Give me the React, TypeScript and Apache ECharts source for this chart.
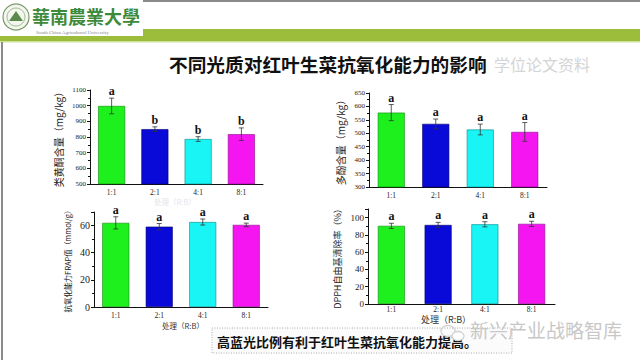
import React, { useEffect, useRef } from "react";
import * as echarts from "echarts";

const categories = ["1:1", "2:1", "4:1", "8:1"];
const barColors = ["#1EF01E", "#0A0AD8", "#19F5F5", "#F515F0"];
const barBorders = ["#0a8a0a", "#000070", "#0a8a8a", "#8a0a8a"];

const flavonoid = [998, 850, 787, 818];
const flavonoidErr = [50, 15, 15, 40];
const flavonoidSig = ["a", "b", "b", "b"];

const polyphenol = [577, 535, 514, 505];
const polyphenolErr = [30, 18, 20, 35];
const polyphenolSig = ["a", "a", "a", "a"];

const frap = [62, 59.2, 62.6, 60.5];
const frapErr = [4.5, 2.3, 2.2, 1.3];
const frapSig = ["a", "a", "a", "a"];

const dpph = [90.5, 91.5, 92.3, 92.8];
const dpphErr = [3, 3, 3, 3];
const dpphSig = ["a", "a", "a", "a"];

const panels = [
  { vals: flavonoid, err: flavonoidErr, sig: flavonoidSig, min: 500, max: 1100, interval: 100, name: "类黄酮含量（mg/kg）", nameSize: 10, nameGap: 27, labelSize: 7, xLabelMargin: 3, grid: { left: 90, right: 377, top: 90, bottom: 176 } },
  { vals: polyphenol, err: polyphenolErr, sig: polyphenolSig, min: 300, max: 650, interval: 50, name: "多酚含量（mg/kg）", nameSize: 10, nameGap: 24, labelSize: 7, xLabelMargin: 3, grid: { left: 369, right: 93, top: 93, bottom: 173 } },
  { vals: frap, err: frapErr, sig: frapSig, min: 0, max: 70, interval: 20, name: "抗氧化能力FRAP值（mmol/g）", nameSize: 7.5, nameGap: 23, labelSize: 10, xLabelMargin: 3, grid: { left: 94, right: 372, top: 212, bottom: 53 } },
  { vals: dpph, err: dpphErr, sig: dpphSig, min: 0, max: 110, interval: 20, name: "DPPH自由基清除率（%）", nameSize: 9, nameGap: 26, labelSize: 9, xLabelMargin: 0, grid: { left: 368, right: 85, top: 209, bottom: 56 } },
];

const serif = "Liberation Serif";
const cjk = "Noto Sans CJK SC";

export default function App() {
  const ref = useRef<HTMLDivElement>(null);
  useEffect(() => {
    document.body.style.margin = "0";
    const chart = echarts.init(ref.current!, null, { renderer: "svg" });
    const grid: any[] = [];
    const xAxis: any[] = [];
    const yAxis: any[] = [];
    const series: any[] = [];
    panels.forEach((p, i) => {
      grid.push({ ...p.grid, containLabel: false });
      xAxis.push({
        type: "category",
        gridIndex: i,
        data: categories,
        axisLine: { lineStyle: { color: "#111", width: 1 } },
        axisTick: { inside: true, alignWithLabel: true, length: 3, lineStyle: { color: "#111" } },
        axisLabel: { color: "#222", fontFamily: serif, fontSize: 7.5, margin: p.xLabelMargin + 1, lineHeight: 8 },
      });
      yAxis.push({
        type: "value",
        gridIndex: i,
        min: p.min,
        max: p.max,
        interval: p.interval,
        name: p.name,
        nameLocation: "middle",
        nameRotate: 90,
        nameGap: p.nameGap,
        nameTextStyle: { fontFamily: cjk, fontSize: p.nameSize, color: "#222" },
        splitLine: { show: false },
        axisLine: { show: true, lineStyle: { color: "#111", width: 1 } },
        axisTick: { show: true, length: 3, lineStyle: { color: "#111" } },
        minorTick: { show: true, splitNumber: 2, length: 2, lineStyle: { color: "#111" } },
        axisLabel: {
          color: "#222",
          fontFamily: serif,
          fontSize: p.labelSize,
          margin: 4,
          showMaxLabel: i < 2,
          formatter: (v: number) => String(v),
        },
      });
      series.push({
        type: "bar",
        xAxisIndex: i,
        yAxisIndex: i,
        barWidth: 27,
        data: p.vals.map((v, k) => ({
          value: v,
          itemStyle: { color: barColors[k], borderColor: barBorders[k], borderWidth: 0.6 },
        })),
      });
      series.push({
        type: "custom",
        xAxisIndex: i,
        yAxisIndex: i,
        z: 5,
        encode: { x: 0, y: 1 },
        data: p.vals.map((v, k) => [k, v, p.err[k]]),
        renderItem: (params: any, api: any) => {
          const c = api.value(0);
          const v = api.value(1);
          const e = api.value(2);
          const x = api.coord([c, v])[0];
          const top = api.coord([c, v + e])[1];
          const bot = api.coord([c, v - e])[1];
          const ls = { stroke: "#333", lineWidth: 0.8 };
          return {
            type: "group",
            children: [
              { type: "line", shape: { x1: x, y1: top, x2: x, y2: bot }, style: ls },
              { type: "line", shape: { x1: x - 2.5, y1: top, x2: x + 2.5, y2: top }, style: ls },
              { type: "line", shape: { x1: x - 2.5, y1: bot, x2: x + 2.5, y2: bot }, style: ls },
              {
                type: "text",
                style: {
                  text: p.sig[params.dataIndex],
                  x,
                  y: top - 1,
                  align: "center",
                  verticalAlign: "bottom",
                  fill: "#111",
                  fontSize: 12,
                  fontWeight: "bold",
                  fontFamily: serif,
                },
              },
            ],
          };
        },
      });
    });

    const graphic: any[] = [
      { type: "rect", shape: { x: 0, y: 29, width: 640, height: 12 }, style: { fill: "#9cbc3c" } },
      { type: "rect", shape: { x: 0, y: 41, width: 640, height: 1.5 }, style: { fill: "#cfe09a" } },
      { type: "rect", shape: { x: 143, y: 0, width: 497, height: 2 }, style: { fill: "#8a8a8a" } },
      { type: "rect", shape: { x: 0, y: 0, width: 143, height: 36 }, style: { fill: "#ffffff" } },
      { type: "rect", shape: { x: 1, y: 42, width: 2, height: 318 }, style: { fill: "#8a8a8a" } },
      { type: "circle", shape: { cx: 16, cy: 17, r: 13 }, style: { fill: "#f4f7ee", stroke: "#7a9a6a", lineWidth: 1.2 } },
      { type: "circle", shape: { cx: 16, cy: 17, r: 9 }, style: { fill: "none", stroke: "#8aa87a", lineWidth: 0.8 } },
      { type: "polygon", shape: { points: [[9, 21], [16, 11], [23, 21]] }, style: { fill: "#5c8a4c" } },
      { type: "text", style: { text: "華南農業大學", x: 32, y: 16, verticalAlign: "middle", fill: "#3d8a3a", fontSize: 18, fontWeight: "bold", fontFamily: "Noto Sans CJK TC" } },
      { type: "text", style: { text: "South China Agricultural University", x: 36, y: 32, verticalAlign: "middle", fill: "#888", fontSize: 5, fontFamily: serif } },
      { type: "text", style: { text: "不同光质对红叶生菜抗氧化能力的影响", x: 169, y: 63, verticalAlign: "middle", fill: "#111", fontSize: 18.7, fontWeight: "bold", fontFamily: cjk } },
      { type: "text", style: { text: "学位论文资料", x: 494, y: 64, verticalAlign: "middle", fill: "#d4d4d4", fontSize: 16, fontFamily: cjk } },
      { type: "text", style: { text: "处理（R:B）", x: 175, y: 201, align: "center", verticalAlign: "middle", fill: "#e4e4ea", fontSize: 7.5, fontFamily: cjk } },
      { type: "text", style: { text: "处理（R:B）", x: 183, y: 325, align: "center", verticalAlign: "middle", fill: "#333", fontSize: 7.5, fontFamily: cjk } },
      { type: "text", style: { text: "处理（R:B）", x: 446, y: 319.5, align: "center", verticalAlign: "middle", fill: "#333", fontSize: 9, lineHeight: 9, fontFamily: cjk } },
      { type: "rect", shape: { x: 212, y: 328, width: 300, height: 25 }, style: { fill: "#fbfbfb", stroke: "#aaa", lineWidth: 1, lineDash: [1, 1.5] } },
      { type: "text", style: { text: "高蓝光比例有利于红叶生菜抗氧化能力提高。", x: 217, y: 341, verticalAlign: "middle", fill: "#111", fontSize: 13, fontWeight: "bold", fontFamily: cjk } },
      { type: "ellipse", shape: { cx: 448, cy: 331, rx: 7, ry: 5.5 }, style: { fill: "none", stroke: "#d2d2d2", lineWidth: 1.3 } },
      { type: "ellipse", shape: { cx: 458, cy: 336, rx: 6, ry: 4.5 }, style: { fill: "#fff", stroke: "#d2d2d2", lineWidth: 1.3 } },
      { type: "text", style: { text: "新兴产业战略智库", x: 470, y: 329, verticalAlign: "middle", fill: "#c8c8c8", fontSize: 19, lineHeight: 19, fontFamily: cjk } },
    ];

    chart.setOption({
      animation: false,
      backgroundColor: "#ffffff",
      grid,
      xAxis,
      yAxis,
      series,
      graphic,
    });
    return () => chart.dispose();
  }, []);
  return <div ref={ref} style={{ width: 640, height: 360 }} />;
}
